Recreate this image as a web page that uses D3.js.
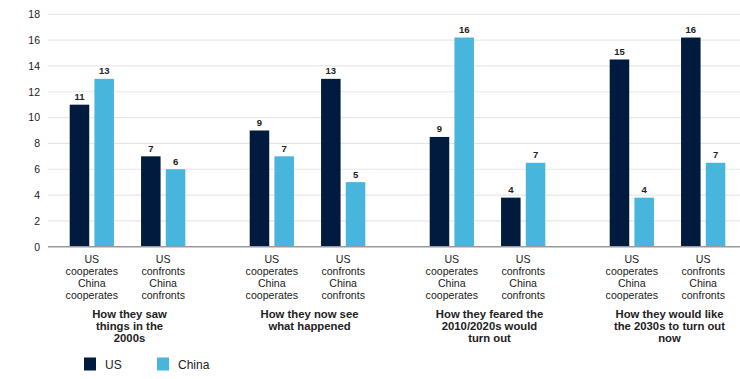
<!DOCTYPE html>
<html><head><meta charset="utf-8">
<script src="https://cdn.jsdelivr.net/npm/d3@7"></script>
<style>
html,body{margin:0;padding:0;background:#fff;}
svg{display:block;font-family:"Liberation Sans",Arial,Helvetica,sans-serif;}
</style></head>
<body>
<svg id="chart" width="740" height="379"></svg>
<script>
const groups = [
  ["How they saw", "things in the", "2000s"],
  ["How they now see", "what happened"],
  ["How they feared the", "2010/2020s would", "turn out"],
  ["How they would like", "the 2030s to turn out", "now"]
];
const subcats = ["coop", "conf"];
const subcatLabels = [
  ["US", "cooperates", "China", "cooperates"],
  ["US", "confronts", "China", "confronts"]
];
const series = ["US", "China"];
const colors = ["#011b3f", "#48b5dd"];
// values per group: [coop-US, coop-China, conf-US, conf-China]
const usValues    = [11, 7, 9, 13, 8.5, 3.8, 14.5, 16.2];
const chinaValues = [13, 6, 7, 5, 16.2, 6.5, 3.8, 6.5];
const yTicks = [0, 2, 4, 6, 8, 10, 12, 14, 16, 18];

const svg = d3.select("#chart");
const plotLeft = 48, plotTop = 14.3, plotBottom = 246.7;

const y = d3.scaleLinear().domain([0, 18]).range([plotBottom, plotTop]);
const gIdx = d3.range(groups.length);
const x0 = d3.scaleBand().domain(gIdx).range([plotLeft, plotLeft + 720]);
const x1 = d3.scaleBand().domain(subcats).range([21.7, 137.3]).paddingInner(0.38);
const x2 = d3.scaleBand().domain(series).range([0, x1.bandwidth()]).paddingInner(0.21);

// gridlines
svg.append("g").selectAll("line").data(yTicks.filter(t => t > 0)).join("line")
  .attr("x1", plotLeft).attr("x2", 740)
  .attr("y1", d => y(d)).attr("y2", d => y(d))
  .attr("stroke", "#e7e7e7").attr("stroke-width", 1.2);

// y axis labels
const yAxis = d3.axisLeft(y).tickValues(yTicks).tickSize(0).tickPadding(0);
const ya = svg.append("g").attr("transform", `translate(40,0)`).call(yAxis);
ya.select(".domain").remove();
ya.selectAll("text").attr("font-size", 10.5).attr("fill", "#222").attr("font-family", "Liberation Sans, Arial, sans-serif");

// data rows
const rows = [];
gIdx.forEach(g => subcats.forEach((s, si) => {
  const k = g * 2 + si;
  rows.push({g, s, si, ser: "US", v: usValues[k]});
  rows.push({g, s, si, ser: "China", v: chinaValues[k]});
}));

const bx = d => x0(d.g) + x1(d.s) + x2(d.ser);
svg.append("g").selectAll("rect").data(rows).join("rect")
  .attr("x", bx).attr("width", x2.bandwidth())
  .attr("y", d => y(d.v)).attr("height", d => y(0) - y(d.v))
  .attr("fill", d => colors[series.indexOf(d.ser)]);

svg.append("g").selectAll("text").data(rows).join("text")
  .attr("x", d => bx(d) + x2.bandwidth() / 2)
  .attr("y", d => y(d.v) - 4.5)
  .attr("text-anchor", "middle")
  .attr("font-size", 9.5).attr("font-weight", 600).attr("fill", "#222")
  .text(d => Math.round(d.v));

// x axis line
svg.append("line").attr("x1", plotLeft).attr("x2", 740)
  .attr("y1", plotBottom).attr("y2", plotBottom)
  .attr("stroke", "#9a9a9a").attr("stroke-width", 1.4);

// category labels
gIdx.forEach(g => subcats.forEach((s, si) => {
  const cx = x0(g) + x1(s) + x1.bandwidth() / 2;
  const t = svg.append("text").attr("text-anchor", "middle")
    .attr("font-size", 10.6).attr("fill", "#222");
  subcatLabels[si].forEach((line, i) => {
    t.append("tspan").attr("x", cx).attr("y", 263 + i * 12).text(line);
  });
}));

// group titles
gIdx.forEach(g => {
  const cx = x0(g) + x1(subcats[0]) + (x1(subcats[1]) + x1.bandwidth() - x1(subcats[0])) / 2 + 2;
  const t = svg.append("text").attr("text-anchor", "middle")
    .attr("font-size", 11.3).attr("font-weight", 700).attr("fill", "#222");
  groups[g].forEach((line, i) => {
    t.append("tspan").attr("x", cx).attr("y", 317.5 + i * 12).text(line);
  });
});

// legend
const legX = [84, 157];
series.forEach((s, i) => {
  svg.append("rect").attr("x", legX[i]).attr("y", 357.5).attr("width", 12).attr("height", 13)
    .attr("fill", colors[i]);
  svg.append("text").attr("x", legX[i] + 21).attr("y", 368.5)
    .attr("font-size", 12).attr("fill", "#222").text(s);
});
</script>
</body></html>
